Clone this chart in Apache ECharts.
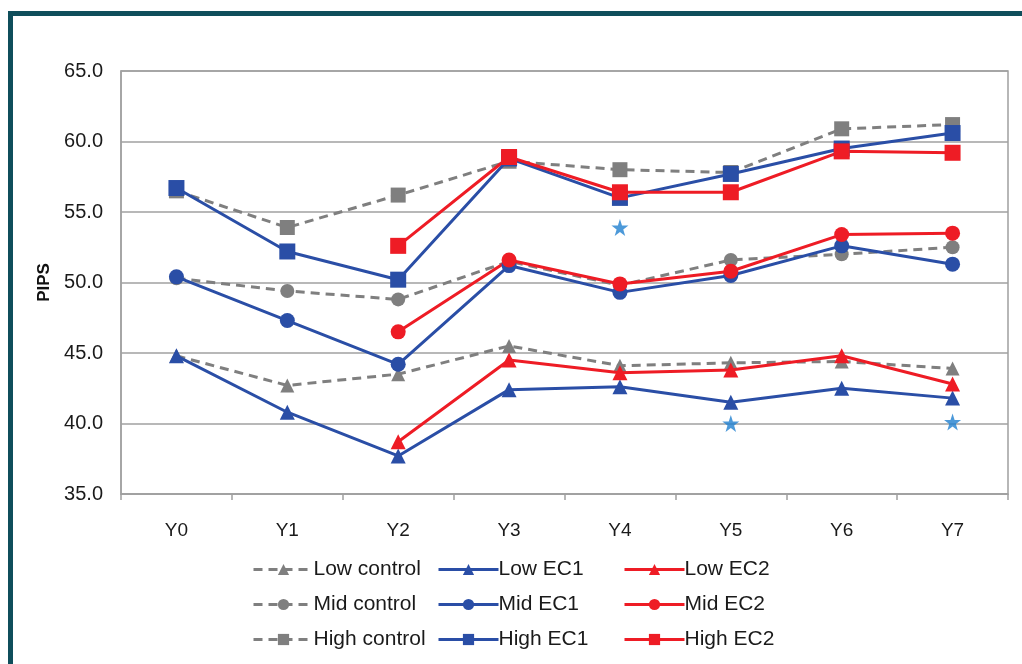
<!DOCTYPE html>
<html><head><meta charset="utf-8">
<script src="https://cdn.jsdelivr.net/npm/echarts@6/dist/echarts.min.js"></script>
<style>
html,body{margin:0;padding:0;background:#fff;width:1022px;height:664px;overflow:hidden;}
#frame{position:absolute;left:8px;top:11px;width:1100px;height:800px;border-left:5px solid #0f4e5b;border-top:5px solid #0f4e5b;}
#chart{position:absolute;left:0;top:0;width:1022px;height:664px;}
</style></head>
<body>
<div id="frame"></div>
<div id="chart"></div>
<script>
const categories = ['Y0','Y1','Y2','Y3','Y4','Y5','Y6','Y7'];
const lowControl  = [44.8, 42.7, 43.5, 45.5, 44.1, 44.3, 44.4, 43.9];
const lowEC1      = [44.8, 40.8, 37.7, 42.4, 42.6, 41.5, 42.5, 41.8];
const lowEC2      = [null, null, 38.7, 44.5, 43.6, 43.8, 44.8, 42.8];
const midControl  = [50.3, 49.4, 48.8, 51.5, 49.8, 51.6, 52.0, 52.5];
const midEC1      = [50.4, 47.3, 44.2, 51.2, 49.3, 50.5, 52.6, 51.3];
const midEC2      = [null, null, 46.5, 51.6, 49.9, 50.8, 53.4, 53.5];
const highControl = [56.5, 53.9, 56.2, 58.6, 58.0, 57.8, 60.9, 61.2];
const highEC1     = [56.7, 52.2, 50.2, 58.8, 56.0, 57.7, 59.5, 60.6];
const highEC2     = [null, null, 52.6, 58.9, 56.4, 56.4, 59.3, 59.2];
const significant = [null, null, null, null, 53.9, 40.0, null, 40.1];

const GRAY = '#7f7f7f', BLUE = '#2a4ea6', RED = '#ee1c25', STAR = '#1f7fd0';
const starPath = 'path://M50,0 L61.8,35.1 L98.9,35.1 L69.1,56.9 L80.2,91.9 L50,70.2 L19.8,91.9 L30.9,56.9 L1.1,35.1 L38.2,35.1 Z';

function mk(name, data, color, symbol, size, dashed) {
  return {
    name, type: 'line', data, symbol, symbolSize: size,
    showSymbol: true, connectNulls: false, animation: false,
    lineStyle: { color, width: 3, type: dashed ? [9, 6] : 'solid' },
    itemStyle: { color },
    z: dashed ? 2 : 3
  };
}

const series = [
  mk('Low control', lowControl, GRAY, 'triangle', 14, true),
  mk('Mid control', midControl, GRAY, 'circle', 14, true),
  mk('High control', highControl, GRAY, 'rect', 15, true),
  mk('Low EC1', lowEC1, BLUE, 'triangle', 15, false),
  mk('Mid EC1', midEC1, BLUE, 'circle', 15, false),
  mk('High EC1', highEC1, BLUE, 'rect', 16, false),
  mk('Low EC2', lowEC2, RED, 'triangle', 15, false),
  mk('Mid EC2', midEC2, RED, 'circle', 15, false),
  mk('High EC2', highEC2, RED, 'rect', 16, false),
  { name: 'sig', type: 'scatter', data: significant, symbol: starPath, symbolSize: 17,
    itemStyle: { color: STAR }, z: 4, animation: false }
];

function legend(left, names) {
  return {
    left, top: 559, orient: 'vertical', itemGap: 14,
    itemWidth: 60, itemHeight: 14,
    data: names,
    selectedMode: false,
    lineStyle: { width: 3 },
    textStyle: { fontFamily: 'Liberation Sans, Arial', fontSize: 21, color: '#1a1a1a', padding: [0,0,0,-5] },
    padding: 0
  };
}

const chart = echarts.init(document.getElementById('chart'));
chart.setOption({
  backgroundColor: 'transparent',
  animation: false,
  grid: { left: 121, right: 14, top: 71, bottom: 170, show: true, borderColor: '#a0a0a0', borderWidth: 1.5 },
  legend: [
    legend(252, ['Low control', 'Mid control', 'High control']),
    legend(437, ['Low EC1', 'Mid EC1', 'High EC1']),
    legend(623, ['Low EC2', 'Mid EC2', 'High EC2'])
  ],
  xAxis: {
    type: 'category', data: categories, boundaryGap: true,
    axisLine: { lineStyle: { color: '#a0a0a0', width: 1.5 } },
    axisTick: { show: true, length: 6, lineStyle: { color: '#a0a0a0', width: 1.5 } },
    axisLabel: { fontFamily: 'Liberation Sans, Arial', fontSize: 19, color: '#1a1a1a', margin: 27 }
  },
  yAxis: {
    type: 'value', min: 35, max: 65, interval: 5,
    name: 'PIPS', nameLocation: 'middle', nameGap: 65, nameRotate: 90,
    nameTextStyle: { fontFamily: 'Liberation Sans, Arial', fontSize: 17, fontWeight: 'bold', color: '#111' },
    axisLine: { show: true, lineStyle: { color: '#a0a0a0', width: 1.5 } },
    axisTick: { show: false },
    splitLine: { lineStyle: { color: '#a0a0a0', width: 1.5 } },
    axisLabel: { fontFamily: 'Liberation Sans, Arial', fontSize: 20, color: '#1a1a1a', margin: 18,
      formatter: v => v.toFixed(1) }
  },
  series
});
</script>
</body></html>
